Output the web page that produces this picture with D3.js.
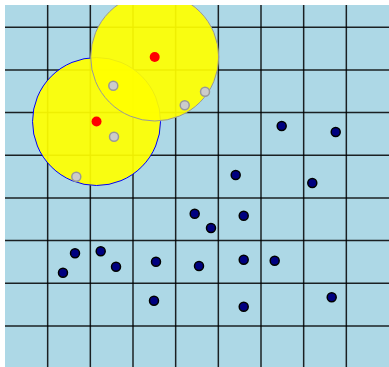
<!DOCTYPE html>
<html>
<head>
<meta charset="utf-8">
<script src="https://cdn.jsdelivr.net/npm/d3@7"></script>
<style>
  html, body { margin: 0; padding: 0; background: #fff; overflow: hidden; }
  svg { position: absolute; left: 5px; top: 5px; display: block; }
</style>
</head>
<body>
<script>
// Grid units: one cell = one unit
const gridX = [1, 2, 3, 4, 5, 6, 7, 8];
const gridY = [1, 2, 3, 4, 5, 6, 7, 8];

// Hubs (draw order: first one underneath)
const hubX = [2.145, 3.509];
const hubY = [3.209, 1.697];
const hubR = [1.5, 1.5];
const hubStroke = ["#0000ff", "#999999"];

// Points captured inside a hub's radius
const memberX = [2.538, 2.555, 1.671, 4.212, 4.688];
const memberY = [2.370, 3.565, 4.502, 2.829, 2.510];

// Free points
const pointX = [6.485, 7.751, 5.407, 7.202, 4.446, 4.828, 5.595, 1.641, 1.359,
                2.243, 2.602, 3.539, 4.547, 5.595, 6.321, 3.492, 5.595, 7.657];
const pointY = [3.314, 3.455, 4.462, 4.650, 5.369, 5.704, 5.416, 6.298, 6.752,
                6.251, 6.612, 6.494, 6.595, 6.448, 6.471, 7.409, 7.549, 7.329];

const W = 384, H = 362;
const x = d3.scaleLinear().domain([0, 9]).range([0, 384]);
const y = d3.scaleLinear().domain([0, 9]).range([-20.4, 363.6]);

const svg = d3.select("body").append("svg")
  .attr("width", W).attr("height", H);

svg.append("rect").attr("width", W).attr("height", H).attr("fill", "#add8e6");

const grid = svg.append("g").attr("stroke", "#000").attr("stroke-width", 1.5)
  .attr("stroke-opacity", 0.85);
grid.selectAll("line.v").data(gridX).join("line").attr("class", "v")
  .attr("x1", d => x(d)).attr("x2", d => x(d))
  .attr("y1", 0).attr("y2", H);
grid.selectAll("line.h").data(gridY).join("line").attr("class", "h")
  .attr("y1", d => y(d)).attr("y2", d => y(d))
  .attr("x1", 0).attr("x2", W);

const hubs = hubX.map((v, i) => ({ x: v, y: hubY[i], r: hubR[i], stroke: hubStroke[i] }));

svg.append("g").selectAll("circle").data(hubs).join("circle")
  .attr("cx", d => x(d.x)).attr("cy", d => y(d.y))
  .attr("r", d => x(d.r) - x(0))
  .attr("fill", "#ffff00").attr("fill-opacity", 0.93)
  .attr("stroke", d => d.stroke).attr("stroke-width", 1);

svg.append("g").selectAll("circle").data(hubs).join("circle")
  .attr("cx", d => x(d.x)).attr("cy", d => y(d.y))
  .attr("r", 5).attr("fill", "#ff0000");

svg.append("g").selectAll("circle").data(memberX.map((v, i) => [v, memberY[i]])).join("circle")
  .attr("cx", d => x(d[0])).attr("cy", d => y(d[1]))
  .attr("r", 4.5).attr("fill", "#cccccc").attr("stroke", "#999999").attr("stroke-width", 1.5);

svg.append("g").selectAll("circle").data(pointX.map((v, i) => [v, pointY[i]])).join("circle")
  .attr("cx", d => x(d[0])).attr("cy", d => y(d[1]))
  .attr("r", 4.5).attr("fill", "#000080").attr("stroke", "#000").attr("stroke-width", 1.5);
</script>
</body>
</html>
